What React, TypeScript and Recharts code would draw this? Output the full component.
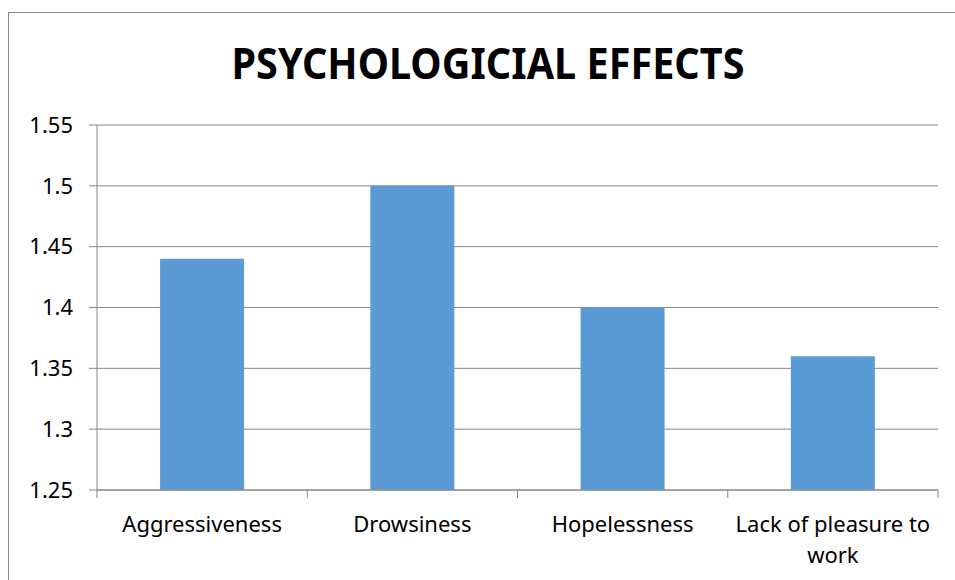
import React from 'react'
import { BarChart, Bar, XAxis, YAxis, CartesianGrid } from 'recharts'

const categories = ['Aggressiveness', 'Drowsiness', 'Hopelessness', 'Lack of pleasure to work']
const values = [1.44, 1.5, 1.4, 1.36]
const yTicks = [1.25, 1.3, 1.35, 1.4, 1.45, 1.5, 1.55]

const data = categories.map((name, i) => ({ name, value: values[i] }))

const FONT = '"Noto Sans", sans-serif'
const GRID = '#868686'
const LABEL_SIZE = 22
const MAX_CHARS = 20

// greedy word wrap on character count
const wrap = (s: string) => {
  const lines: string[] = []
  let cur = ''
  s.split(' ').forEach((w) => {
    const next = cur ? cur + ' ' + w : w
    if (next.length > MAX_CHARS && cur) {
      lines.push(cur)
      cur = w
    } else {
      cur = next
    }
  })
  if (cur) lines.push(cur)
  return lines
}

// category label plus the small tick marks on the band edges
const CategoryTick = (props: any) => {
  const { x, y, payload, index, width, visibleTicksCount } = props
  const bw = width / visibleTicksCount
  const lines = wrap(String(payload.value))
  return (
    <g>
      <line x1={x - bw / 2} y1={y - 8} x2={x - bw / 2} y2={y} stroke={GRID} />
      {index === visibleTicksCount - 1 && (
        <line x1={x + bw / 2} y1={y - 8} x2={x + bw / 2} y2={y} stroke={GRID} />
      )}
      <text
        x={x}
        y={y + 34}
        textAnchor="middle"
        fontSize={LABEL_SIZE}
        fontFamily={FONT}
        fill="#000"
      >
        {lines.map((l, i) => (
          <tspan key={i} x={x} dy={i === 0 ? 0 : 31}>
            {l}
          </tspan>
        ))}
      </text>
    </g>
  )
}

export default function App() {
  return (
    <div
      style={{
        position: 'absolute',
        left: 8,
        top: 12,
        width: 947,
        height: 568,
        borderTop: '1px solid #888',
        borderLeft: '1px solid #888',
        background: '#fff',
      }}
    >
      <svg width={947} height={100} style={{ position: 'absolute', left: 0, top: 0 }}>
        <text
          x={479}
          y={66}
          textAnchor="middle"
          fontFamily={FONT}
          fontWeight="bold"
          fontSize={43}
          textLength={513}
          lengthAdjust="spacingAndGlyphs"
          fill="#000"
        >
          PSYCHOLOGICIAL EFFECTS
        </text>
      </svg>
      <BarChart
        width={947}
        height={568}
        data={data}
        margin={{ top: 112, right: 18, bottom: 0, left: 0 }}
        barCategoryGap="30%"
      >
        <CartesianGrid vertical={false} stroke={GRID} />
        <XAxis
          dataKey="name"
          interval={0}
          height={91}
          tickLine={false}
          axisLine={{ stroke: GRID }}
          tick={<CategoryTick />}
        />
        <YAxis
          width={88}
          domain={[1.25, 1.55]}
          ticks={yTicks}
          tickSize={8}
          tickMargin={16}
          tickLine={{ stroke: GRID }}
          axisLine={{ stroke: GRID }}
          tick={{ fontSize: LABEL_SIZE, fontFamily: FONT, fill: '#000' }}
        />
        <Bar dataKey="value" fill="#5B9BD5" isAnimationActive={false} />
      </BarChart>
    </div>
  )
}
